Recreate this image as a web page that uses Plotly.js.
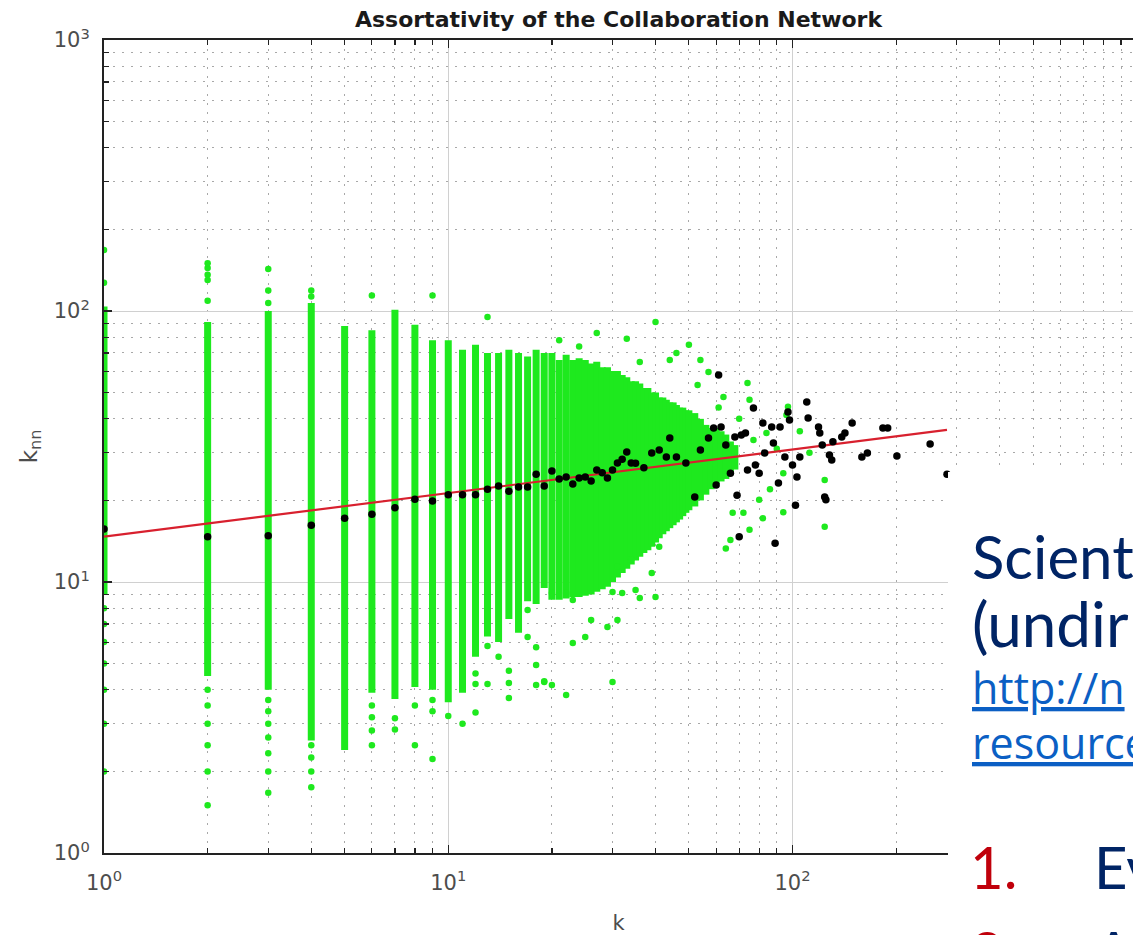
<!DOCTYPE html>
<html>
<head>
<meta charset="utf-8">
<script src="https://cdn.plot.ly/plotly-3.0.1.min.js"></script>
<style>html,body{margin:0;padding:0;background:#fff;}#chart{width:1133px;height:935px;}</style>
</head>
<body>
<div id="chart"></div>
<script>
// ---- data ----
// dense vertical runs of green points (degree k, lowest and highest k_nn of the solid run)
const colK  = [1,2,3,4,5,6,7,8,9,10,11,12,13,14,15,16,17,18,19,
               20,21,22,23,24,25,26,27,28,29,30,31,32,33,34,35,36,37,38,39,40,41,42,43,44,45,46,47,48,49,50,52,54,56,58,60,62,64,66,68];
const colLo = [9,4.5,4.0,2.6,2.4,3.9,3.7,4.1,4.0,3.6,3.9,5.3,6.3,6.0,7.3,6.5,8.5,8.3,9.5,
               8.6,8.6,8.7,8.8,8.8,8.9,9.0,9.2,9.4,9.6,10.0,10.4,10.8,11.2,11.6,12.0,12.4,12.8,13.1,13.5,14.0,14.5,15.0,15.4,15.8,16.2,16.6,17.0,17.5,18.0,18.4,19.0,20.0,21.0,22.0,23.0,23.5,24.0,25.0,26.0];
const colHi = [104,91,100,107,88,85,101,89,78,78,72,75,70,70,72,70,68,72,70,
               70,66,69,66,67,66,64,65,62,62,60,60,58,57,55,55,54,52,52,50,50,48,48,47,46,46,45,44,44,43,43,42,40,38,37,37,36,35,33,32];
// isolated green points
const ptK   = [1,1,1,1,1,1,1,1,1,
               2,2,2,2,2,2,2,2,2,2,2,
               3,3,3,3,3,3,3,3,3,3,
               4,4,4,4,4,4,
               6,6,6,6,6,7,7,8,8,9,9,9,9,10,11,12,12,12,13,13,13,14,15,17,18,18,19,
               18,19,20,22,30,23,25,26,29,31,30,32,35,36,39,40,41,34,31,22,23,17,20,15,15,
               36,44,57,53,63,74,75,97,96,124,124,94,80,72,75,67,82,94,84,77,66,64,
               21,27,33,40,50,54,24,46,61,70,86,90,105,112];
const ptKnn = [2,3,4,5,6,7,8,127,168,
               1.5,2,2.5,3,3.5,4,109,130,136,144,150,
               1.667,2,2.333,2.667,3,3.333,3.667,107,119,143,
               1.75,2,2.25,2.5,113,119,
               2.5,2.833,3.167,3.5,114,2.857,3.143,2.5,3.5,2.222,3.333,3.667,114,3.2,3.0,3.3,4.2,4.6,4.2,5.8,95,5.3,4.7,6.27,4.94,5.75,4.28,
               4.17,4.3,4.17,3.83,4.28,5.96,6.27,7.24,6.82,7.24,9.18,9.10,9.34,8.73,10.8,8.81,13.5,12.1,11.4,9.10,8.58,7.88,9.10,3.73,4.24,
               64.9,65.9,59.6,53.3,48.2,54.2,47.0,44.3,41.3,23.8,16.0,18.1,20.1,18.0,15.6,18.0,17.2,25.2,35.5,33.4,14.3,13.3,
               78,83,79,91,75,66,74,70,44,40,22,31,36,30];
// average nearest-neighbour degree per k (black points)
const meanK   = [1,2,3,4,5,6,7,8,9,10,11,12,13,14,15,16,17,18,19,20,21,22,23,24,25,26,27,28,29,30,
                 31,32,33,34,35,37,39,41,43,44,46,49,52,54,57,59,60,61,62,64,66,68,69,70,71,73,74,77,78,80,
                 82,83,87,88,89,91,92,95,97,98,100,102,103,105,110,111,119,120,122,124,125,128,130,131,139,142,149,159,165,183,189,201,251,281];
const meanKnn = [15.7,14.7,14.8,16.2,17.2,17.8,18.8,20.2,19.9,21.0,21.0,21.0,22.0,22.6,21.6,22.4,22.4,25.0,22.6,25.7,24.0,24.4,23.0,24.2,24.4,23.6,25.9,25.3,24.2,25.9,
                 27.5,28.4,30.2,27.5,27.4,26.4,29.9,30.7,28.9,34.0,28.9,27.5,20.6,30.7,34.0,37.0,22.8,58.1,37.3,32.0,25.2,34.3,20.9,14.7,34.9,35.5,25.9,43.9,27.0,25.2,
                 38.6,29.9,37.3,32.6,13.9,23.2,37.3,28.9,42.4,39.6,27.0,19.2,24.4,28.9,46.2,40.3,37.3,35.5,32.0,20.6,20.1,29.4,28.2,32.9,34.3,35.5,38.6,28.9,29.9,37.0,37.0,29.2,32.3,25.0];
// power-law fit, end points
const fitK   = [1, 281];
const fitKnn = [14.7, 36.4];
// axis tick labels
const tickVals = [1, 10, 100, 1000];
const tickText = ['10<sup>0</sup>', '10<sup>1</sup>', '10<sup>2</sup>', '10<sup>3</sup>'];

// ---- build traces ----
const colX = [], colY = [];
colK.forEach((k, i) => { colX.push(k, k, null); colY.push(colLo[i], colHi[i], null); });
const minorVals = [];
[1, 10, 100].forEach(d => { for (let m = 2; m <= 9; m++) minorVals.push(m * d); });

const GREEN = '#1ee91e';
const traces = [
  { x: colX, y: colY, type: 'scatter', mode: 'lines', line: { color: GREEN, width: 7 }, hoverinfo: 'skip', connectgaps: false },
  { x: ptK, y: ptKnn, type: 'scatter', mode: 'markers', marker: { color: GREEN, size: 6.5 }, hoverinfo: 'skip' },
  { x: fitK, y: fitKnn, type: 'scatter', mode: 'lines', line: { color: '#d8202e', width: 2.2 }, hoverinfo: 'skip' },
  { x: meanK, y: meanKnn, type: 'scatter', mode: 'markers', marker: { color: '#000', size: 7.5 }, hoverinfo: 'skip' }
];

// pixel -> paper helpers for overlay text (plot area 104..1133 x 40..853)
const PX0 = 104, PW = 1029, PY1 = 853, PH = 813;
const px = v => (v - PX0) / PW;
const py = v => (PY1 - v) / PH;
const NAVY = '#002465', LINK = '#0b5fc4', RED = '#c0000b';
function txt(t, x, y, size, color, fam) {
  return { text: t, x: px(x), y: py(y), xref: 'paper', yref: 'paper', xanchor: 'left', yanchor: 'middle',
           showarrow: false, font: { family: fam || 'Lato, "Noto Sans", sans-serif', size: size, color: color } };
}

const axisFont = { family: '"DejaVu Sans", sans-serif', size: 21, color: '#4d4d4d' };
const common = {
  type: 'log', tickmode: 'array', tickvals: tickVals, ticktext: tickText,
  ticks: 'inside', ticklen: 8, tickwidth: 1.2, tickcolor: '#222',
  showline: true, linecolor: '#222', linewidth: 2,
  showgrid: true, gridcolor: '#d0d0d0', gridwidth: 1, zeroline: false,
  tickfont: axisFont,
  minor: { tickmode: 'array', tickvals: minorVals, ticks: 'inside', ticklen: 5, tickcolor: '#222',
           showgrid: true, gridcolor: '#a8a8a8', gridwidth: 1, griddash: '2px,7px' }
};

const layout = {
  width: 1133, height: 935,
  margin: { l: 104, r: 0, t: 40, b: 82, pad: 0 },
  paper_bgcolor: '#fff', plot_bgcolor: '#fff',
  showlegend: false,
  title: { text: '<b>Assortativity of the Collaboration Network</b>', xref: 'paper', x: 0.5, xanchor: 'center',
           yref: 'container', y: 1 - 19 / 935, yanchor: 'middle',
           font: { family: '"DejaVu Sans", sans-serif', size: 22, color: '#1a1a1a' } },
  xaxis: Object.assign({}, common, { range: [0, 2.989], mirror: 'ticks', ticklabelstandoff: 10,
           title: { text: 'k', font: axisFont, standoff: 22 } }),
  yaxis: Object.assign({}, common, { range: [0, 3], ticklabelstandoff: 8,
           title: { text: 'k<sub>nn</sub>', font: { family: '"DejaVu Sans", sans-serif', size: 23, color: '#4d4d4d' }, standoff: 10 } }),
  shapes: [
    { type: 'rect', xref: 'paper', yref: 'paper', x0: px(948), x1: 1.05, y0: -0.2, y1: py(472),
      fillcolor: '#fff', line: { width: 0 }, layer: 'above' }
  ],
  annotations: [
    txt('Scient', 970, 556, 60, NAVY),
    txt('(undir', 970, 623, 62, NAVY),
    txt('<u>http://n</u>', 970, 687, 43, LINK, '"Open Sans", sans-serif'),
    txt('<u>resource</u>', 970, 742, 43, LINK, '"Open Sans", sans-serif'),
    txt('1.', 968, 866, 58, RED),
    txt('Ev', 1092, 866, 58, NAVY),
    txt('2.', 968, 952, 58, RED),
    txt('A', 1092, 952, 58, NAVY)
  ]
};

Plotly.newPlot('chart', traces, layout, { displayModeBar: false, staticPlot: true });
</script>
</body>
</html>
